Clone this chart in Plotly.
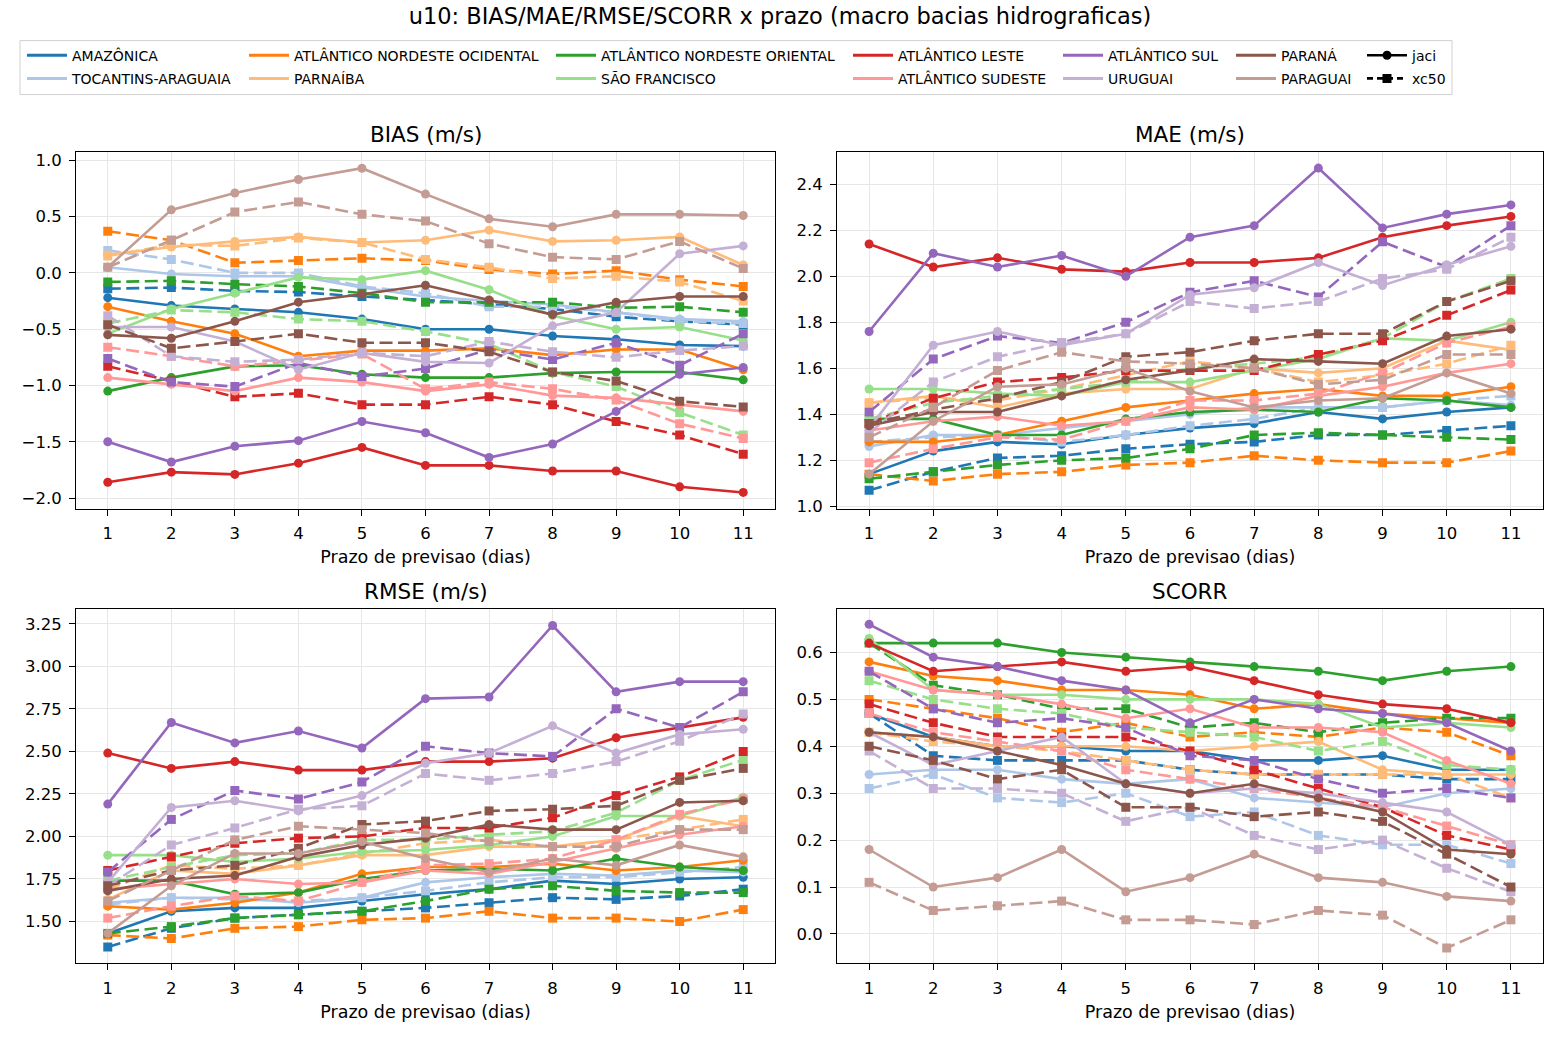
import plotly.graph_objects as go
from plotly.subplots import make_subplots

LEADS = list(range(1, 12))

BASINS = [
    "AMAZÔNICA", "TOCANTINS-ARAGUAIA", "ATLÂNTICO NORDESTE OCIDENTAL", "PARNAÍBA",
    "ATLÂNTICO NORDESTE ORIENTAL", "SÃO FRANCISCO", "ATLÂNTICO LESTE", "ATLÂNTICO SUDESTE",
    "ATLÂNTICO SUL", "URUGUAI", "PARANÁ", "PARAGUAI",
]

COLORS = {
    "AMAZÔNICA": "#1f77b4", "TOCANTINS-ARAGUAIA": "#aec7e8",
    "ATLÂNTICO NORDESTE OCIDENTAL": "#ff7f0e", "PARNAÍBA": "#ffbb78",
    "ATLÂNTICO NORDESTE ORIENTAL": "#2ca02c", "SÃO FRANCISCO": "#98df8a",
    "ATLÂNTICO LESTE": "#d62728", "ATLÂNTICO SUDESTE": "#ff9896",
    "ATLÂNTICO SUL": "#9467bd", "URUGUAI": "#c5b0d5",
    "PARANÁ": "#8c564b", "PARAGUAI": "#c49c94",
}

# ---- BIAS (m/s)
BIAS_JACI = {
    "AMAZÔNICA": [-0.22, -0.29, -0.32, -0.35, -0.41, -0.50, -0.50, -0.56, -0.59, -0.64, -0.65],
    "TOCANTINS-ARAGUAIA": [0.05, -0.01, -0.03, -0.03, -0.13, -0.21, -0.25, -0.28, -0.35, -0.41, -0.43],
    "ATLÂNTICO NORDESTE OCIDENTAL": [-0.30, -0.43, -0.54, -0.74, -0.69, -0.69, -0.67, -0.73, -0.68, -0.68, -0.86],
    "PARNAÍBA": [0.16, 0.23, 0.28, 0.32, 0.27, 0.29, 0.38, 0.28, 0.29, 0.32, 0.07],
    "ATLÂNTICO NORDESTE ORIENTAL": [-1.05, -0.93, -0.83, -0.82, -0.90, -0.93, -0.93, -0.89, -0.88, -0.88, -0.95],
    "SÃO FRANCISCO": [-0.54, -0.32, -0.18, -0.04, -0.06, 0.02, -0.15, -0.38, -0.50, -0.48, -0.60],
    "ATLÂNTICO LESTE": [-1.86, -1.77, -1.79, -1.69, -1.55, -1.71, -1.71, -1.76, -1.76, -1.90, -1.95],
    "ATLÂNTICO SUDESTE": [-0.93, -0.99, -1.05, -0.93, -0.97, -1.05, -0.99, -1.09, -1.11, -1.17, -1.23],
    "ATLÂNTICO SUL": [-1.50, -1.68, -1.54, -1.49, -1.32, -1.42, -1.64, -1.52, -1.23, -0.90, -0.84],
    "URUGUAI": [-0.48, -0.48, -0.61, -0.86, -0.71, -0.79, -0.80, -0.47, -0.35, 0.17, 0.24],
    "PARANÁ": [-0.55, -0.58, -0.43, -0.26, -0.19, -0.11, -0.24, -0.37, -0.26, -0.21, -0.21],
    "PARAGUAI": [0.05, 0.56, 0.71, 0.83, 0.93, 0.70, 0.48, 0.41, 0.52, 0.52, 0.51],
}
BIAS_XC50 = {
    "AMAZÔNICA": [-0.14, -0.13, -0.16, -0.17, -0.21, -0.24, -0.28, -0.32, -0.39, -0.43, -0.46],
    "TOCANTINS-ARAGUAIA": [0.20, 0.12, 0.00, 0.00, -0.12, -0.18, -0.30, -0.30, -0.35, -0.43, -0.45],
    "ATLÂNTICO NORDESTE OCIDENTAL": [0.37, 0.29, 0.09, 0.11, 0.13, 0.11, 0.03, -0.01, 0.02, -0.06, -0.12],
    "PARNAÍBA": [0.15, 0.25, 0.24, 0.31, 0.27, 0.12, 0.05, -0.05, -0.03, -0.08, -0.25],
    "ATLÂNTICO NORDESTE ORIENTAL": [-0.08, -0.07, -0.10, -0.12, -0.18, -0.26, -0.26, -0.26, -0.31, -0.30, -0.35],
    "SÃO FRANCISCO": [-0.45, -0.33, -0.35, -0.41, -0.43, -0.52, -0.63, -0.88, -1.01, -1.24, -1.44],
    "ATLÂNTICO LESTE": [-0.83, -0.96, -1.10, -1.07, -1.17, -1.17, -1.10, -1.17, -1.32, -1.44, -1.61],
    "ATLÂNTICO SUDESTE": [-0.66, -0.74, -0.83, -0.78, -0.72, -1.03, -0.97, -1.03, -1.13, -1.34, -1.47],
    "ATLÂNTICO SUL": [-0.76, -0.97, -1.01, -0.80, -0.92, -0.85, -0.68, -0.77, -0.62, -0.82, -0.54],
    "URUGUAI": [-0.38, -0.74, -0.79, -0.77, -0.71, -0.74, -0.61, -0.70, -0.75, -0.69, -0.65],
    "PARANÁ": [-0.46, -0.67, -0.61, -0.54, -0.62, -0.62, -0.70, -0.88, -0.96, -1.14, -1.19],
    "PARAGUAI": [0.05, 0.29, 0.54, 0.63, 0.52, 0.46, 0.26, 0.14, 0.12, 0.28, 0.04],
}

# ---- MAE (m/s)
MAE_JACI = {
    "AMAZÔNICA": [1.14, 1.24, 1.28, 1.27, 1.31, 1.34, 1.36, 1.41, 1.38, 1.41, 1.43],
    "TOCANTINS-ARAGUAIA": [1.26, 1.31, 1.31, 1.34, 1.37, 1.40, 1.43, 1.43, 1.43, 1.46, 1.44],
    "ATLÂNTICO NORDESTE OCIDENTAL": [1.28, 1.28, 1.31, 1.37, 1.43, 1.46, 1.49, 1.51, 1.48, 1.48, 1.52],
    "PARNAÍBA": [1.45, 1.48, 1.43, 1.49, 1.51, 1.51, 1.60, 1.58, 1.60, 1.72, 1.68],
    "ATLÂNTICO NORDESTE ORIENTAL": [1.38, 1.38, 1.31, 1.31, 1.38, 1.41, 1.42, 1.41, 1.47, 1.46, 1.43],
    "SÃO FRANCISCO": [1.51, 1.51, 1.49, 1.48, 1.54, 1.54, 1.59, 1.64, 1.73, 1.72, 1.80],
    "ATLÂNTICO LESTE": [2.14, 2.04, 2.08, 2.03, 2.02, 2.06, 2.06, 2.08, 2.17, 2.22, 2.26],
    "ATLÂNTICO SUDESTE": [1.33, 1.37, 1.39, 1.35, 1.37, 1.43, 1.42, 1.48, 1.52, 1.58, 1.62],
    "ATLÂNTICO SUL": [1.76, 2.10, 2.04, 2.09, 2.00, 2.17, 2.22, 2.47, 2.21, 2.27, 2.31],
    "URUGUAI": [1.34, 1.70, 1.76, 1.70, 1.75, 1.92, 1.95, 2.06, 1.96, 2.05, 2.13],
    "PARANÁ": [1.35, 1.41, 1.41, 1.48, 1.55, 1.59, 1.64, 1.63, 1.62, 1.74, 1.77],
    "PARAGUAI": [1.14, 1.37, 1.52, 1.53, 1.60, 1.50, 1.43, 1.46, 1.47, 1.58, 1.49],
}
MAE_XC50 = {
    "AMAZÔNICA": [1.07, 1.15, 1.21, 1.22, 1.25, 1.27, 1.28, 1.31, 1.31, 1.33, 1.35],
    "TOCANTINS-ARAGUAIA": [1.28, 1.30, 1.31, 1.28, 1.31, 1.35, 1.38, 1.43, 1.43, 1.46, 1.48],
    "ATLÂNTICO NORDESTE OCIDENTAL": [1.14, 1.11, 1.14, 1.15, 1.18, 1.19, 1.22, 1.20, 1.19, 1.19, 1.24],
    "PARNAÍBA": [1.45, 1.47, 1.46, 1.51, 1.57, 1.63, 1.60, 1.54, 1.57, 1.62, 1.70],
    "ATLÂNTICO NORDESTE ORIENTAL": [1.12, 1.15, 1.18, 1.20, 1.21, 1.25, 1.31, 1.32, 1.31, 1.30, 1.29],
    "SÃO FRANCISCO": [1.38, 1.45, 1.48, 1.51, 1.54, 1.60, 1.62, 1.65, 1.73, 1.89, 1.99],
    "ATLÂNTICO LESTE": [1.36, 1.47, 1.54, 1.56, 1.59, 1.59, 1.59, 1.66, 1.72, 1.83, 1.94],
    "ATLÂNTICO SUDESTE": [1.19, 1.25, 1.30, 1.29, 1.37, 1.46, 1.46, 1.49, 1.58, 1.71, 1.78],
    "ATLÂNTICO SUL": [1.41, 1.64, 1.74, 1.71, 1.80, 1.93, 1.98, 1.91, 2.15, 2.04, 2.22],
    "URUGUAI": [1.32, 1.54, 1.65, 1.71, 1.75, 1.89, 1.86, 1.89, 1.99, 2.03, 2.17],
    "PARANÁ": [1.36, 1.42, 1.47, 1.54, 1.65, 1.67, 1.72, 1.75, 1.75, 1.89, 1.98],
    "PARAGUAI": [1.30, 1.43, 1.59, 1.67, 1.63, 1.62, 1.60, 1.53, 1.55, 1.66, 1.66],
}

# ---- RMSE (m/s)
RMSE_JACI = {
    "AMAZÔNICA": [1.43, 1.56, 1.58, 1.58, 1.62, 1.66, 1.69, 1.74, 1.72, 1.75, 1.76],
    "TOCANTINS-ARAGUAIA": [1.61, 1.64, 1.64, 1.61, 1.64, 1.73, 1.76, 1.78, 1.77, 1.80, 1.79],
    "ATLÂNTICO NORDESTE OCIDENTAL": [1.59, 1.57, 1.61, 1.67, 1.78, 1.82, 1.82, 1.84, 1.80, 1.82, 1.86],
    "PARNAÍBA": [1.63, 1.80, 1.78, 1.83, 1.89, 1.89, 1.94, 1.94, 1.98, 2.12, 2.06],
    "ATLÂNTICO NORDESTE ORIENTAL": [1.74, 1.74, 1.66, 1.67, 1.75, 1.80, 1.81, 1.80, 1.87, 1.82, 1.80],
    "SÃO FRANCISCO": [1.89, 1.89, 1.85, 1.87, 1.91, 1.92, 1.95, 2.00, 2.12, 2.12, 2.23],
    "ATLÂNTICO LESTE": [2.49, 2.40, 2.44, 2.39, 2.39, 2.44, 2.44, 2.46, 2.58, 2.64, 2.70],
    "ATLÂNTICO SUDESTE": [1.69, 1.72, 1.75, 1.72, 1.73, 1.80, 1.78, 1.85, 1.93, 2.01, 2.06],
    "ATLÂNTICO SUL": [2.19, 2.67, 2.55, 2.62, 2.52, 2.81, 2.82, 3.24, 2.85, 2.91, 2.91],
    "URUGUAI": [1.73, 2.17, 2.21, 2.15, 2.24, 2.43, 2.49, 2.65, 2.49, 2.60, 2.63],
    "PARANÁ": [1.68, 1.75, 1.77, 1.88, 1.95, 1.99, 2.07, 2.04, 2.04, 2.20, 2.21],
    "PARAGUAI": [1.43, 1.71, 1.90, 1.90, 1.97, 1.87, 1.79, 1.87, 1.83, 1.95, 1.88],
}
RMSE_XC50 = {
    "AMAZÔNICA": [1.35, 1.46, 1.52, 1.54, 1.56, 1.58, 1.61, 1.64, 1.63, 1.65, 1.69],
    "TOCANTINS-ARAGUAIA": [1.60, 1.64, 1.63, 1.62, 1.64, 1.68, 1.73, 1.76, 1.76, 1.79, 1.82],
    "ATLÂNTICO NORDESTE OCIDENTAL": [1.42, 1.40, 1.46, 1.47, 1.51, 1.52, 1.56, 1.52, 1.52, 1.50, 1.57],
    "PARNAÍBA": [1.69, 1.83, 1.81, 1.83, 1.90, 1.96, 1.98, 1.94, 1.98, 2.04, 2.10],
    "ATLÂNTICO NORDESTE ORIENTAL": [1.43, 1.47, 1.52, 1.54, 1.56, 1.62, 1.69, 1.71, 1.68, 1.67, 1.67],
    "SÃO FRANCISCO": [1.74, 1.82, 1.89, 1.90, 1.98, 1.98, 2.01, 2.03, 2.14, 2.33, 2.45],
    "ATLÂNTICO LESTE": [1.80, 1.88, 1.96, 1.99, 2.00, 2.05, 2.05, 2.11, 2.24, 2.35, 2.50],
    "ATLÂNTICO SUDESTE": [1.52, 1.59, 1.65, 1.62, 1.73, 1.83, 1.84, 1.87, 1.98, 2.13, 2.22],
    "ATLÂNTICO SUL": [1.79, 2.10, 2.27, 2.22, 2.32, 2.53, 2.49, 2.47, 2.75, 2.64, 2.85],
    "URUGUAI": [1.71, 1.95, 2.05, 2.16, 2.18, 2.37, 2.33, 2.37, 2.44, 2.56, 2.72],
    "PARANÁ": [1.71, 1.80, 1.83, 1.93, 2.07, 2.09, 2.15, 2.16, 2.18, 2.33, 2.40],
    "PARAGUAI": [1.62, 1.80, 1.98, 2.06, 2.04, 2.02, 1.97, 1.94, 1.94, 2.04, 2.04],
}

# ---- SCORR
SCORR_JACI = {
    "AMAZÔNICA": [0.47, 0.42, 0.40, 0.40, 0.39, 0.39, 0.37, 0.37, 0.38, 0.35, 0.35],
    "TOCANTINS-ARAGUAIA": [0.34, 0.35, 0.35, 0.33, 0.32, 0.33, 0.29, 0.28, 0.27, 0.30, 0.31],
    "ATLÂNTICO NORDESTE OCIDENTAL": [0.58, 0.55, 0.54, 0.52, 0.52, 0.51, 0.48, 0.49, 0.47, 0.46, 0.45],
    "PARNAÍBA": [0.43, 0.42, 0.40, 0.40, 0.40, 0.39, 0.40, 0.41, 0.35, 0.34, 0.34],
    "ATLÂNTICO NORDESTE ORIENTAL": [0.62, 0.62, 0.62, 0.60, 0.59, 0.58, 0.57, 0.56, 0.54, 0.56, 0.57],
    "SÃO FRANCISCO": [0.63, 0.52, 0.51, 0.51, 0.50, 0.50, 0.50, 0.49, 0.44, 0.45, 0.44],
    "ATLÂNTICO LESTE": [0.62, 0.56, 0.57, 0.58, 0.56, 0.57, 0.54, 0.51, 0.49, 0.48, 0.45],
    "ATLÂNTICO SUDESTE": [0.56, 0.52, 0.51, 0.49, 0.46, 0.48, 0.44, 0.44, 0.43, 0.37, 0.32],
    "ATLÂNTICO SUL": [0.66, 0.59, 0.57, 0.54, 0.52, 0.45, 0.50, 0.48, 0.47, 0.45, 0.39],
    "URUGUAI": [0.43, 0.36, 0.39, 0.42, 0.32, 0.30, 0.31, 0.30, 0.28, 0.26, 0.19],
    "PARANÁ": [0.43, 0.42, 0.39, 0.36, 0.32, 0.30, 0.32, 0.29, 0.26, 0.18, 0.17],
    "PARAGUAI": [0.18, 0.10, 0.12, 0.18, 0.09, 0.12, 0.17, 0.12, 0.11, 0.08, 0.07],
}
SCORR_XC50 = {
    "AMAZÔNICA": [0.47, 0.38, 0.37, 0.37, 0.37, 0.35, 0.34, 0.34, 0.34, 0.33, 0.33],
    "TOCANTINS-ARAGUAIA": [0.31, 0.34, 0.29, 0.28, 0.30, 0.25, 0.26, 0.21, 0.19, 0.19, 0.15],
    "ATLÂNTICO NORDESTE OCIDENTAL": [0.50, 0.48, 0.46, 0.43, 0.45, 0.42, 0.43, 0.42, 0.44, 0.43, 0.38],
    "PARNAÍBA": [0.43, 0.41, 0.40, 0.39, 0.37, 0.35, 0.34, 0.34, 0.34, 0.34, 0.29],
    "ATLÂNTICO NORDESTE ORIENTAL": [0.62, 0.53, 0.51, 0.48, 0.48, 0.44, 0.45, 0.43, 0.45, 0.46, 0.46],
    "SÃO FRANCISCO": [0.54, 0.50, 0.48, 0.47, 0.44, 0.43, 0.42, 0.39, 0.41, 0.36, 0.35],
    "ATLÂNTICO LESTE": [0.49, 0.45, 0.42, 0.42, 0.42, 0.39, 0.35, 0.31, 0.27, 0.21, 0.18],
    "ATLÂNTICO SUDESTE": [0.47, 0.43, 0.41, 0.39, 0.35, 0.33, 0.31, 0.29, 0.27, 0.23, 0.19],
    "ATLÂNTICO SUL": [0.56, 0.48, 0.45, 0.46, 0.44, 0.38, 0.37, 0.33, 0.30, 0.31, 0.29],
    "URUGUAI": [0.39, 0.31, 0.31, 0.30, 0.24, 0.27, 0.21, 0.18, 0.20, 0.14, 0.09],
    "PARANÁ": [0.40, 0.37, 0.33, 0.35, 0.27, 0.27, 0.25, 0.26, 0.24, 0.17, 0.10],
    "PARAGUAI": [0.11, 0.05, 0.06, 0.07, 0.03, 0.03, 0.02, 0.05, 0.04, -0.03, 0.03],
}

FONT = "DejaVu Sans"
W, H = 1560, 1040
ML, MR, MT, MB = 76, 17, 151.5, 76.7
PW, PH = W - ML - MR, H - MT - MB


def px_x(p):
    return (p - ML) / PW


def px_y(p):
    return (H - MB - p) / PH


fig = make_subplots(rows=2, cols=2)

panels = [
    (1, 1, "BIAS (m/s)", BIAS_JACI, BIAS_XC50, [-2.094, 1.074], 0.5, ".1f"),
    (1, 2, "MAE (m/s)", MAE_JACI, MAE_XC50, [0.99, 2.54], 0.2, ".1f"),
    (2, 1, "RMSE (m/s)", RMSE_JACI, RMSE_XC50, [1.256, 3.335], 0.25, ".2f"),
    (2, 2, "SCORR", SCORR_JACI, SCORR_XC50, [-0.062, 0.692], 0.1, ".1f"),
]

xdom = {1: [0, px_x(775)], 2: [px_x(837), 1]}
ydom = {1: [px_y(508.5), 1], 2: [0, px_y(609.3)]}

LW = 2.6
for row, col, title, jaci, xc50, yrange, dtick, fmt in panels:
    if row == 1 and col == 1:
        fig.add_hline(y=0, line=dict(color="#808080", width=1, dash="dot"), row=1, col=1)
    for basin in BASINS:
        fig.add_trace(go.Scatter(
            x=LEADS, y=jaci[basin], mode="lines+markers", name=basin,
            line=dict(color=COLORS[basin], width=LW),
            marker=dict(symbol="circle", size=9, color=COLORS[basin]),
            showlegend=False,
        ), row=row, col=col)
        fig.add_trace(go.Scatter(
            x=LEADS, y=xc50[basin], mode="lines+markers", name=basin,
            line=dict(color=COLORS[basin], width=LW, dash="13px,5.5px"),
            marker=dict(symbol="square", size=9, color=COLORS[basin]),
            showlegend=False,
        ), row=row, col=col)
    fig.update_xaxes(
        domain=xdom[col], range=[0.5, 11.5], dtick=1, tick0=1,
        title=dict(text="Prazo de previsao (dias)", font=dict(size=17.5, color="black"), standoff=8),
        row=row, col=col,
    )
    fig.update_yaxes(domain=ydom[row], range=yrange, dtick=dtick, tickformat=fmt, row=row, col=col)
    x0, x1 = xdom[col]
    fig.add_annotation(
        text=title, x=(x0 + x1) / 2, y=ydom[row][1], xref="paper", yref="paper",
        xanchor="center", yanchor="bottom", yshift=3, showarrow=False,
        font=dict(size=21.5, color="black", family=FONT),
    )

axis_style = dict(
    showline=True, mirror=True, linecolor="black", linewidth=1,
    ticks="outside", ticklen=6, tickcolor="black", tickfont=dict(size=16.5, color="black"),
    showgrid=True, gridcolor="#e6e6e6", gridwidth=1, zeroline=False,
    ticklabelstandoff=4,
)
fig.update_xaxes(**axis_style)
fig.update_yaxes(**axis_style)

# legend: 7 columns of 2 entries each (x = where the label text starts)
columns = [
    ("legend", 72, ["AMAZÔNICA", "TOCANTINS-ARAGUAIA"]),
    ("legend2", 294, ["ATLÂNTICO NORDESTE OCIDENTAL", "PARNAÍBA"]),
    ("legend3", 601, ["ATLÂNTICO NORDESTE ORIENTAL", "SÃO FRANCISCO"]),
    ("legend4", 898, ["ATLÂNTICO LESTE", "ATLÂNTICO SUDESTE"]),
    ("legend5", 1108, ["ATLÂNTICO SUL", "URUGUAI"]),
    ("legend6", 1281, ["PARANÁ", "PARAGUAI"]),
]
LEG_FONT = dict(size=14, color="black", family=FONT)
ITEM_W = 40
TEXT_OFFSET = 40 + ITEM_W - 30
LEG_TOP = 39
legend_layout = {}
for key, text_x, names in columns:
    for name in names:
        fig.add_trace(go.Scatter(
            x=[None], y=[None], mode="lines", name=name, legend=key, legendgroup=name,
            line=dict(color=COLORS[name], width=3), hoverinfo="skip",
        ))
    legend_layout[key] = dict(
        x=px_x(text_x - TEXT_OFFSET), y=px_y(LEG_TOP), xanchor="left", yanchor="top",
        bgcolor="rgba(0,0,0,0)", font=LEG_FONT, tracegroupgap=2, itemwidth=ITEM_W,
    )

fig.add_trace(go.Scatter(
    x=[None], y=[None], mode="lines+markers", name="jaci", legend="legend7", legendgroup="jaci",
    line=dict(color="black", width=LW), marker=dict(symbol="circle", size=9, color="black"),
))
fig.add_trace(go.Scatter(
    x=[None], y=[None], mode="lines+markers", name="xc50", legend="legend7", legendgroup="xc50",
    line=dict(color="black", width=LW, dash="6px,4px"), marker=dict(symbol="square", size=9, color="black"),
))
legend_layout["legend7"] = dict(
    x=px_x(1412 - TEXT_OFFSET), y=px_y(LEG_TOP), xanchor="left", yanchor="top",
    bgcolor="rgba(0,0,0,0)", font=LEG_FONT, tracegroupgap=2, itemwidth=ITEM_W,
)

fig.add_shape(
    type="rect", xref="paper", yref="paper",
    x0=px_x(20), x1=px_x(1452), y0=px_y(94), y1=px_y(40),
    line=dict(color="#d0d0d0", width=1), fillcolor="rgba(0,0,0,0)", layer="below",
)

fig.update_layout(
    width=W, height=H,
    margin=dict(l=ML, r=MR, t=MT, b=MB, autoexpand=False),
    paper_bgcolor="white", plot_bgcolor="white",
    font=dict(family=FONT, color="black"),
    title=dict(
        text="u10: BIAS/MAE/RMSE/SCORR x prazo (macro bacias hidrograficas)",
        x=0.5, xanchor="center", y=1 - 16 / H, yanchor="middle", yref="container",
        font=dict(size=22.5, color="black", family=FONT),
    ),
    **legend_layout,
)

# drop the browser's default 8 px body margin so the figure starts at the page corner
fig.write_html(
    "out.html",
    config={"displayModeBar": False},
    post_script="document.body.style.margin='0px';",
)
